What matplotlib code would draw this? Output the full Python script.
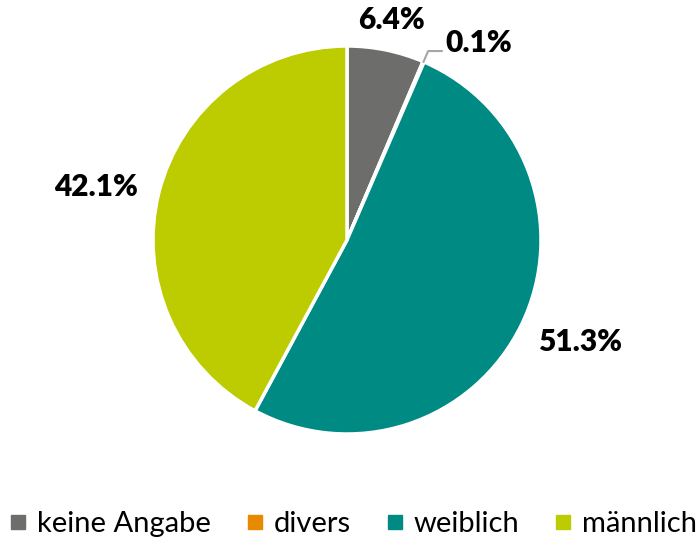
import numpy as np
import matplotlib.pyplot as plt
from matplotlib.lines import Line2D

# Daten
categories = ["keine Angabe", "divers", "weiblich", "männlich"]
values = [6.4, 0.1, 51.3, 42.1]
colors = ["#6d6d6b", "#e88a00", "#008a84", "#bdcc00"]
label_r = [1.16, 1.21, 1.31, 1.32]
label_dang = [0, 0, 2.1, 2.2]  # kleine Winkelkorrektur der Beschriftung

plt.rcParams['font.family'] = ['Lato', 'DejaVu Sans']

fig = plt.figure(figsize=(6.98, 5.4), dpi=100)
ax = fig.add_axes([0, 0, 1, 1])

wedges, _ = ax.pie(values, colors=colors, startangle=90, counterclock=False,
                   radius=1.0, wedgeprops=dict(edgecolor='white', linewidth=2.5))
# pie() setzt eigene Grenzen -> danach überschreiben
ax.set_xlim(-347 / 194, 351 / 194)
ax.set_ylim(-300 / 194, 240 / 194)
ax.axis('off')

total = sum(values)
start = 90
for i, v in enumerate(values):
    mid_deg = start - v / total * 360 / 2
    start -= v / total * 360
    mid = np.deg2rad(mid_deg)
    txt = f"{v:.1f}%"
    if categories[i] == "divers":
        # Führungslinie
        p0 = (np.cos(mid), np.sin(mid))
        p1 = (1.06 * np.cos(mid), 1.06 * np.sin(mid))
        p2 = (p1[0] + 0.07, p1[1])
        ax.plot([p0[0], p1[0], p2[0]], [p0[1], p1[1], p2[1]], color='#a6a6a6', lw=1.5)
        ax.text(p2[0] + 0.02, p2[1] + 0.04, txt, ha='left', va='center',
                fontsize=21.5, fontweight='heavy')
    else:
        r = label_r[i]
        a = np.deg2rad(mid_deg + label_dang[i])
        ax.text(r * np.cos(a), r * np.sin(a), txt, ha='center', va='center',
                fontsize=21.5, fontweight='heavy')

handles = [Line2D([], [], marker='s', linestyle='', markersize=9.5, color=c) for c in colors]
ax.legend(handles, categories, loc='center', bbox_to_anchor=(352 / 698, 16 / 540), ncol=4,
          frameon=False, fontsize=21, handletextpad=0.25, columnspacing=1.1,
          handlelength=0.8, borderaxespad=0)

fig.savefig("out.png", dpi=100)
